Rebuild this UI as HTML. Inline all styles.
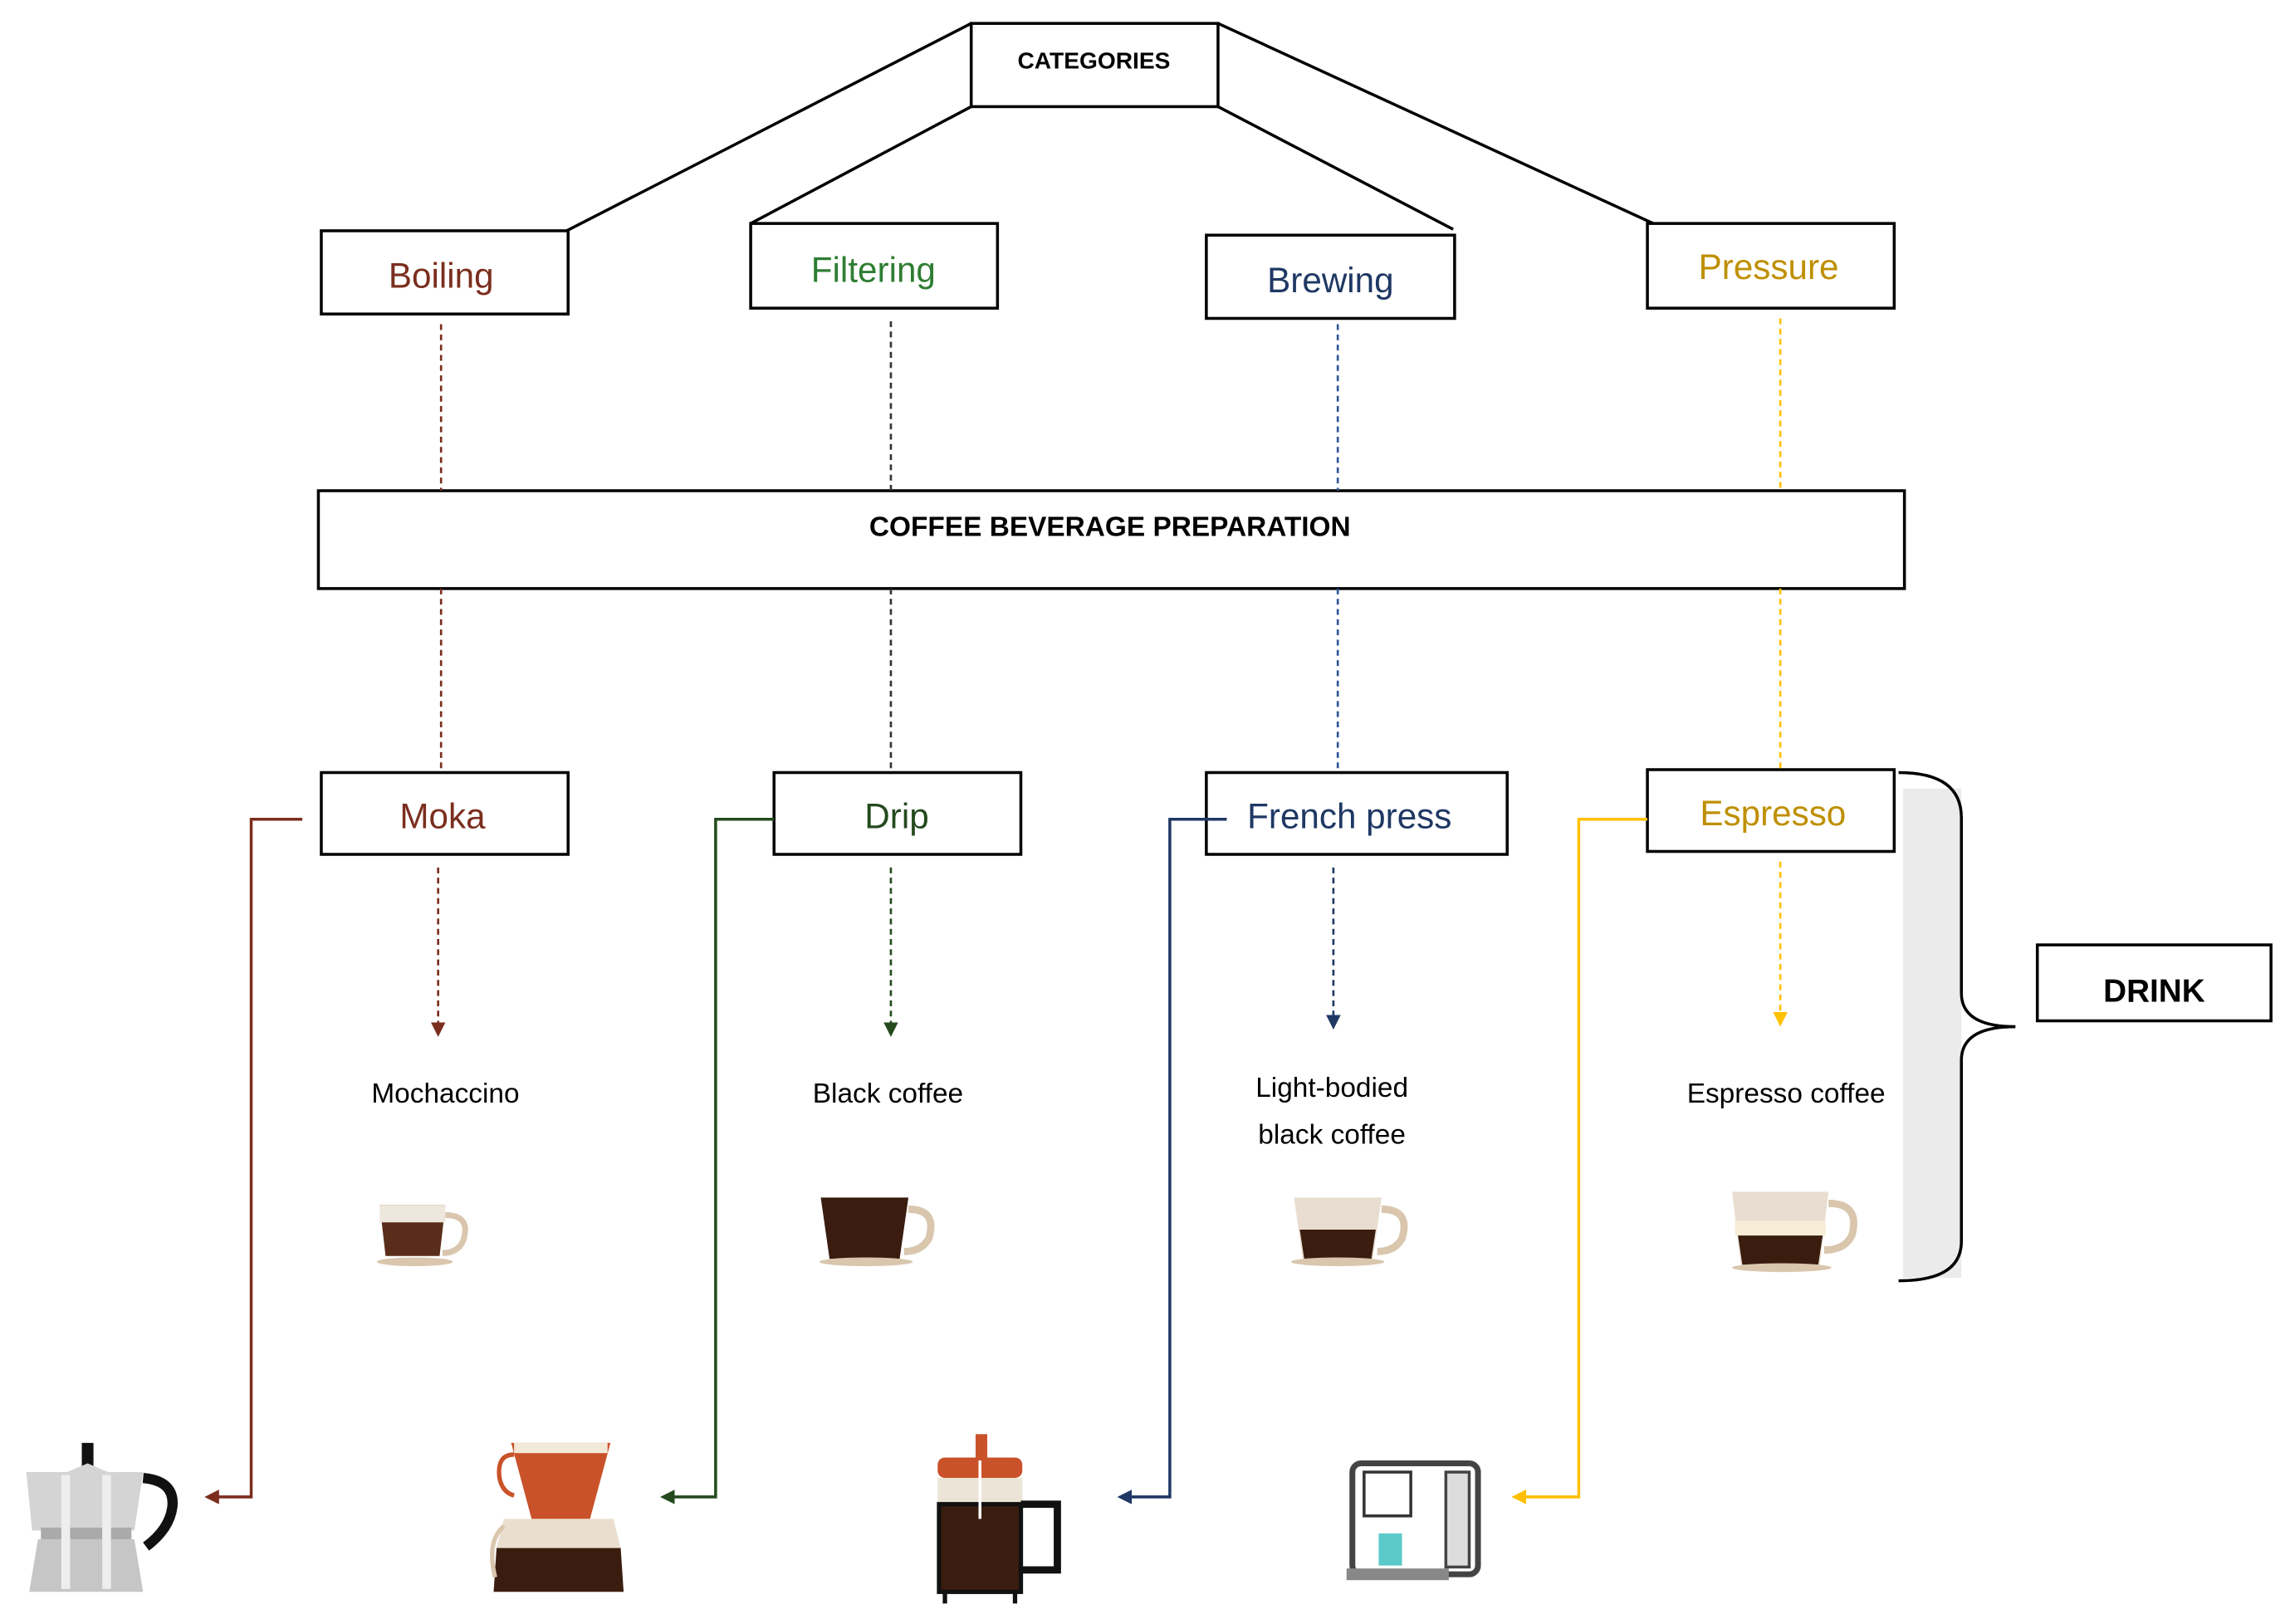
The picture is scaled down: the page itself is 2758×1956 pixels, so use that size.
<!DOCTYPE html>
<html><head><meta charset="utf-8"><style>
html,body{margin:0;padding:0;background:#fff;width:2758px;height:1956px;overflow:hidden}
svg{display:block}
text{font-family:"Liberation Sans",sans-serif}
</style></head><body>
<svg width="2758" height="1956" viewBox="0 0 1568 1112" xmlns="http://www.w3.org/2000/svg">
<defs>
<marker id="ab" markerWidth="10" markerHeight="10" refX="5" refY="5" orient="auto" markerUnits="userSpaceOnUse"><path d="M0,0 L10,5 L0,10 z" fill="#7b2e1e"/></marker>
<marker id="ag" markerWidth="10" markerHeight="10" refX="5" refY="5" orient="auto" markerUnits="userSpaceOnUse"><path d="M0,0 L10,5 L0,10 z" fill="#244a1e"/></marker>
<marker id="an" markerWidth="10" markerHeight="10" refX="5" refY="5" orient="auto" markerUnits="userSpaceOnUse"><path d="M0,0 L10,5 L0,10 z" fill="#1f3864"/></marker>
<marker id="ao" markerWidth="10" markerHeight="10" refX="5" refY="5" orient="auto" markerUnits="userSpaceOnUse"><path d="M0,0 L10,5 L0,10 z" fill="#ffc000"/></marker>
</defs>
<g stroke="#000" stroke-width="2" fill="none">
<line x1="665" y1="16" x2="388" y2="158"/>
<line x1="665" y1="73" x2="514" y2="153"/>
<line x1="834" y1="73" x2="995" y2="157"/>
<line x1="834" y1="16" x2="1132" y2="153"/>
<rect x="665" y="16" width="169" height="57" fill="#fff"/>
<rect x="220" y="158" width="169" height="57"/>
<rect x="514" y="153" width="169" height="58"/>
<rect x="826" y="161" width="170" height="57"/>
<rect x="1128" y="153" width="169" height="58"/>
<rect x="218" y="336" width="1086" height="67"/>
<rect x="220" y="529" width="169" height="56"/>
<rect x="530" y="529" width="169" height="56"/>
<rect x="826" y="529" width="206" height="56"/>
<rect x="1128" y="527" width="169" height="56"/>
<rect x="1395" y="647" width="160" height="52"/>
</g>
<text x="749" y="47" font-size="16" font-weight="bold" text-anchor="middle">CATEGORIES</text>
<text x="302" y="197" font-size="24" fill="#7b2e1e" text-anchor="middle">Boiling</text>
<text x="598" y="193" font-size="24" fill="#2e7d32" text-anchor="middle">Filtering</text>
<text x="911" y="200" font-size="24" fill="#1f3864" text-anchor="middle">Brewing</text>
<text x="1211" y="191" font-size="24" fill="#bf8f00" text-anchor="middle">Pressure</text>
<text x="760" y="367" font-size="19" font-weight="bold" text-anchor="middle">COFFEE BEVERAGE PREPARATION</text>
<text x="303" y="567" font-size="24" fill="#7b2e1e" text-anchor="middle">Moka</text>
<text x="614" y="567" font-size="24" fill="#244a1e" text-anchor="middle">Drip</text>
<text x="924" y="567" font-size="24" fill="#1f3864" text-anchor="middle">French press</text>
<text x="1214" y="565" font-size="24" fill="#bf8f00" text-anchor="middle">Espresso</text>
<text x="1475" y="686" font-size="22" font-weight="bold" text-anchor="middle">DRINK</text>
<g font-size="19" text-anchor="middle">
<text x="305" y="755">Mochaccino</text>
<text x="608" y="755">Black coffee</text>
<text x="912" y="751">Light-bodied</text>
<text x="912" y="783">black coffee</text>
<text x="1223" y="755">Espresso coffee</text>
</g>
<g stroke-width="1.5" stroke-dasharray="4,3" fill="none">
<line x1="302" y1="222" x2="302" y2="336" stroke="#7b2e1e"/>
<line x1="302" y1="403" x2="302" y2="529" stroke="#7b2e1e"/>
<line x1="300" y1="594" x2="300" y2="705" stroke="#7b2e1e" marker-end="url(#ab)"/>
<line x1="610" y1="220" x2="610" y2="336" stroke="#333"/>
<line x1="610" y1="403" x2="610" y2="529" stroke="#333"/>
<line x1="610" y1="594" x2="610" y2="705" stroke="#244a1e" marker-end="url(#ag)"/>
<line x1="916" y1="222" x2="916" y2="336" stroke="#2f5597"/>
<line x1="916" y1="403" x2="916" y2="529" stroke="#2f5597"/>
<line x1="913" y1="594" x2="913" y2="700" stroke="#1f3864" marker-end="url(#an)"/>
<line x1="1219" y1="218" x2="1219" y2="336" stroke="#ffc000"/>
<line x1="1219" y1="403" x2="1219" y2="527" stroke="#ffc000"/>
<line x1="1219" y1="590" x2="1219" y2="698" stroke="#ffc000" marker-end="url(#ao)"/>
</g>
<g stroke-width="2" fill="none">
<polyline points="207,561 172,561 172,1025 145,1025" stroke="#7b2e1e" marker-end="url(#ab)"/>
<polyline points="530,561 490,561 490,1025 457,1025" stroke="#244a1e" marker-end="url(#ag)"/>
<polyline points="840,561 801,561 801,1025 770,1025" stroke="#1f3864" marker-end="url(#an)"/>
<polyline points="1128,561 1081,561 1081,1025 1040,1025" stroke="#ffc000" marker-end="url(#ao)"/>
</g>
<rect x="1303" y="540" width="40" height="335" fill="#ebebeb"/>
<path d="M1300,529 Q1343,529 1343,560 L1343,680 Q1343,703 1380,703 Q1343,703 1343,726 L1343,850 Q1343,877 1300,877" stroke="#000" stroke-width="2" fill="none"/>
<!-- cups -->
<g>
<path d="M260,825 h45 l-4,35 h-37 z" fill="#5a2d1a"/><path d="M260,825 h45 v12 h-45z" fill="#eee7dd"/><path d="M305,832 q18,0 12,18 q-4,8 -14,8" stroke="#d9c6ad" stroke-width="4" fill="none"/><ellipse cx="284" cy="864" rx="26" ry="3" fill="#d9c6ad"/>
<path d="M562,820 h60 l-6,42 h-48 z" fill="#3b1d10"/><path d="M622,828 q20,0 14,20 q-5,9 -17,9" stroke="#d9c6ad" stroke-width="5" fill="none"/><ellipse cx="593" cy="864" rx="32" ry="3" fill="#d9c6ad"/>
<path d="M886,820 h60 l-6,42 h-48 z" fill="#e8ddd0"/><path d="M890,842 h52 l-3,20 h-46 z" fill="#3b1d10"/><path d="M946,828 q20,0 14,20 q-5,9 -17,9" stroke="#d9c6ad" stroke-width="5" fill="none"/><ellipse cx="916" cy="864" rx="32" ry="3" fill="#d9c6ad"/>
<path d="M1186,816 h66 l-6,50 h-54 z" fill="#e8ddd0"/><path d="M1188,836 h62 v10 h-62z" fill="#f7ecd6"/><path d="M1190,846 h58 l-3,20 h-52 z" fill="#3b1d10"/><path d="M1252,824 q22,0 16,22 q-5,10 -19,10" stroke="#d9c6ad" stroke-width="5" fill="none"/><ellipse cx="1220" cy="868" rx="34" ry="3" fill="#d9c6ad"/>
</g>
<!-- equipment icons -->
<g>
<!-- moka -->
<rect x="56" y="988" width="8" height="22" fill="#111"/>
<path d="M18,1008 h28 l14,-6 l14,6 h24 l-6,40 h-70 z" fill="#d4d4d4"/>
<rect x="28" y="1046" width="62" height="8" fill="#aaa"/>
<path d="M26,1054 h66 l6,36 h-78 z" fill="#c6c6c6"/>
<path d="M45,1010 v78 M73,1010 v78" stroke="#eeeeee" stroke-width="6"/>
<path d="M98,1012 q22,2 20,20 q-2,15 -18,27" stroke="#111" stroke-width="7" fill="none"/>
<!-- drip -->
<path d="M350,988 h68 l-14,52 h-40 z" fill="#c9522a"/>
<rect x="352" y="988" width="64" height="7" fill="#f2ead8"/>
<path d="M352,996 q-12,0 -10,16 q2,10 10,12" stroke="#c9522a" stroke-width="3" fill="none"/>
<path d="M345,1040 h75 l5,20 h-85 z" fill="#eadfce"/>
<path d="M340,1060 h85 l2,30 h-89 z" fill="#3b1d10"/>
<path d="M345,1045 q-12,10 -6,35" stroke="#d9c6ad" stroke-width="3" fill="none"/>
<!-- french press -->
<rect x="668" y="982" width="8" height="18" fill="#c9522a"/>
<rect x="642" y="998" width="58" height="14" rx="5" fill="#c9522a"/>
<rect x="642" y="1012" width="58" height="18" fill="#ece4d6"/>
<rect x="643" y="1030" width="56" height="60" fill="#3b1d10" stroke="#111" stroke-width="3"/>
<line x1="671" y1="1000" x2="671" y2="1040" stroke="#fff" stroke-width="2"/>
<path d="M699,1030 h25 v45 h-25" stroke="#111" stroke-width="5" fill="none"/>
<line x1="647" y1="1090" x2="647" y2="1098" stroke="#111" stroke-width="3"/><line x1="695" y1="1090" x2="695" y2="1098" stroke="#111" stroke-width="3"/>
<!-- espresso machine -->
<rect x="926" y="1002" width="86" height="76" rx="6" fill="#fff" stroke="#444" stroke-width="4"/>
<rect x="934" y="1008" width="32" height="30" fill="none" stroke="#333" stroke-width="2"/>
<rect x="990" y="1008" width="16" height="65" fill="#ddd" stroke="#444" stroke-width="2"/>
<rect x="944" y="1050" width="16" height="22" fill="#5cc9c9"/>
<rect x="922" y="1074" width="70" height="8" fill="#888"/>
</g>
</svg>
</body></html>
